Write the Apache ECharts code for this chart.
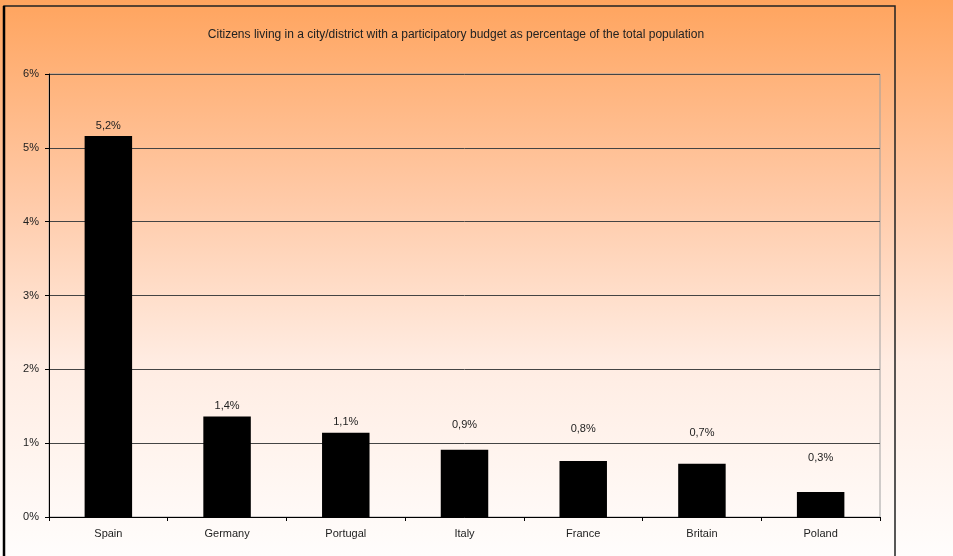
<!DOCTYPE html>
<html>
<head>
<meta charset="utf-8">
<script src="https://cdn.jsdelivr.net/npm/echarts@6/dist/echarts.min.js"></script>
<style>
  html, body { margin: 0; padding: 0; }
  #chart {
    width: 953px;
    height: 556px;
    background: linear-gradient(to bottom, #ffa45e 0%, #ffc9a6 35%, #ffece2 65%, #fffdfc 100%);
  }
</style>
</head>
<body>
<div id="chart"></div>
<script>
const countries = ['Spain', 'Germany', 'Portugal', 'Italy', 'France', 'Britain', 'Poland']
const shares = [5.16, 1.36, 1.14, 0.91, 0.76, 0.72, 0.34]
const shareLabels = ['5,2%', '1,4%', '1,1%', '0,9%', '0,8%', '0,7%', '0,3%']
const yTicks = [0, 1, 2, 3, 4, 5, 6]

// labels in the original sit higher than the bar top for the small bars
const labelLift = [0, 0, 0, -14, -21, -20, -23]

const chart = echarts.init(document.getElementById('chart'))
chart.setOption({
  backgroundColor: 'transparent',
  animation: false,
  textStyle: { fontFamily: 'Liberation Sans, Arial, sans-serif' },
  title: {
    text: 'Citizens living in a city/district with a participatory budget as percentage of the total population',
    left: 451,
    top: 24,
    textAlign: 'center',
    textStyle: { fontSize: 12, fontWeight: 'normal', color: '#222' }
  },
  graphic: [
    {
      type: 'rect',
      shape: { x: 4, y: 6, width: 891, height: 560 },
      style: { fill: 'none', stroke: '#222', lineWidth: 1.5 },
      silent: true
    },
    {
      type: 'line',
      shape: { x1: 4, y1: 6, x2: 4, y2: 556 },
      style: { stroke: '#000', lineWidth: 2.5 },
      silent: true
    }
  ],
  grid: { left: 49, right: 73, top: 74, bottom: 39, show: true, borderColor: '#a0a0a0', borderWidth: 1 },
  xAxis: {
    type: 'category',
    data: countries,
    axisLine: { lineStyle: { color: '#000', width: 1 } },
    axisTick: { show: true, length: 4, lineStyle: { color: '#000' } },
    axisLabel: { color: '#222', fontSize: 11, margin: 11 }
  },
  yAxis: {
    type: 'value',
    min: yTicks[0],
    max: yTicks[yTicks.length - 1],
    interval: 1,
    axisLine: { show: true, lineStyle: { color: '#000', width: 1 } },
    axisTick: { show: true, length: 4, lineStyle: { color: '#000' } },
    axisLabel: { color: '#222', fontSize: 11, margin: 10, formatter: v => v + '%' },
    splitLine: { lineStyle: { color: '#444', width: 1 } }
  },
  series: [
    {
      type: 'bar',
      barWidth: '40%',
      data: shares.map((v, i) => ({
        value: v,
        label: { offset: [0, labelLift[i]] }
      })),
      itemStyle: { color: '#000' },
      label: {
        show: true,
        position: 'top',
        distance: 5,
        color: '#222',
        fontSize: 11,
        formatter: p => shareLabels[p.dataIndex]
      }
    }
  ]
})
</script>
</body>
</html>
